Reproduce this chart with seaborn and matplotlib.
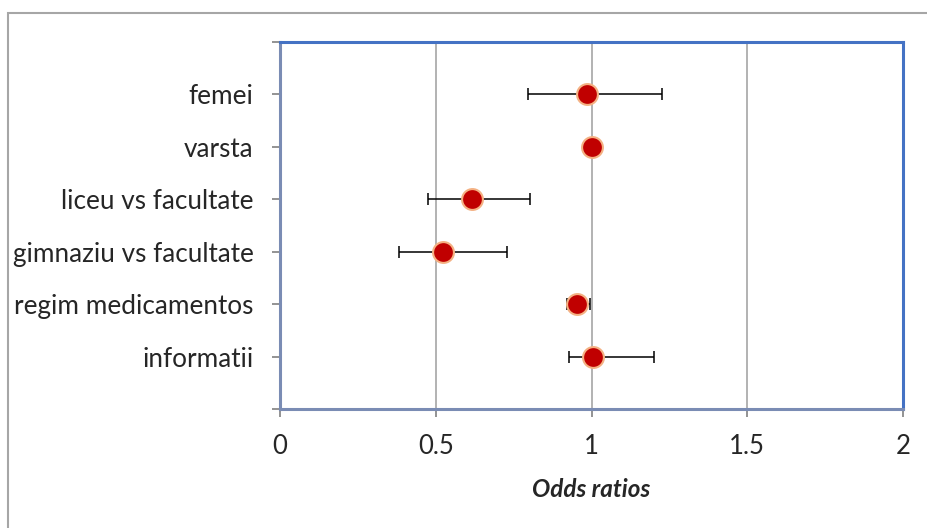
import matplotlib
matplotlib.use("Agg")
import matplotlib.pyplot as plt
import matplotlib.patches as mpatches
import seaborn as sns
import pandas as pd

categories = ["femei", "varsta", "liceu vs facultate", "gimnaziu vs facultate",
              "regim medicamentos", "informatii"]
odds = [0.986, 1.0, 0.616, 0.523, 0.953, 1.005]
ci_low = [0.796, 0.998, 0.475, 0.382, 0.921, 0.928]
ci_high = [1.226, 1.002, 0.803, 0.729, 0.995, 1.200]
x_ticks = [0, 0.5, 1, 1.5, 2]
x_tick_labels = ["0", "0.5", "1", "1.5", "2"]

n = len(categories)
df = pd.DataFrame({
    "cat": categories,
    "or": odds,
    "lo": ci_low,
    "hi": ci_high,
    "pos": [n - i for i in range(n)],
})

sns.set_theme(style="white")
plt.rcParams["font.family"] = ["Lato", "DejaVu Sans"]

fig = plt.figure(figsize=(9.27, 5.28), dpi=100)
ax = fig.add_axes([280 / 927, 1 - 409 / 528, (903 - 280) / 927, (409 - 42) / 528])

for v in [0.5, 1.0, 1.5]:
    ax.axvline(v, color="#A6A6A6", lw=1.2, zorder=0)

ax.errorbar(df["or"], df["pos"],
            xerr=[df["or"] - df["lo"], df["hi"] - df["or"]],
            fmt="none", ecolor="black", elinewidth=1.1, capsize=4.5, capthick=1.1, zorder=2)
sns.scatterplot(data=df, x="or", y="pos", ax=ax, s=225, color="#C00000",
                edgecolor="#F4B183", linewidth=1.5, zorder=3, legend=False)

ax.set_xlim(0, 2)
ax.set_ylim(0, n + 1)
ax.set_xticks(x_ticks)
ax.set_xticklabels(x_tick_labels, fontsize=18.5)
ax.set_yticks([0] + list(df["pos"]) + [n + 1])
ax.set_yticklabels([""] + list(df["cat"]) + [""], fontsize=18.8)
ax.tick_params(axis="y", direction="out", length=6, width=1.2, color="#808080", pad=13, left=True)
ax.tick_params(axis="x", direction="out", length=6, width=1.2, color="#808080", pad=12, bottom=True)
ax.set_xlabel("Odds ratios", fontsize=17.5, fontweight="bold", fontstyle="italic", labelpad=14)
ax.set_ylabel("")

for side in ["top", "right"]:
    ax.spines[side].set_color("#4472C4")
    ax.spines[side].set_linewidth(2.2)
for side in ["left", "bottom"]:
    ax.spines[side].set_color("#7A8CB4")
    ax.spines[side].set_linewidth(2.2)

border = mpatches.Rectangle((8 / 927, -0.1), 1.1, 1 - 13 / 528 + 0.1,
                            transform=fig.transFigure, fill=False,
                            edgecolor="#A6A6A6", lw=1.5, clip_on=False)
fig.patches.append(border)

fig.savefig("out.png", dpi=100)
